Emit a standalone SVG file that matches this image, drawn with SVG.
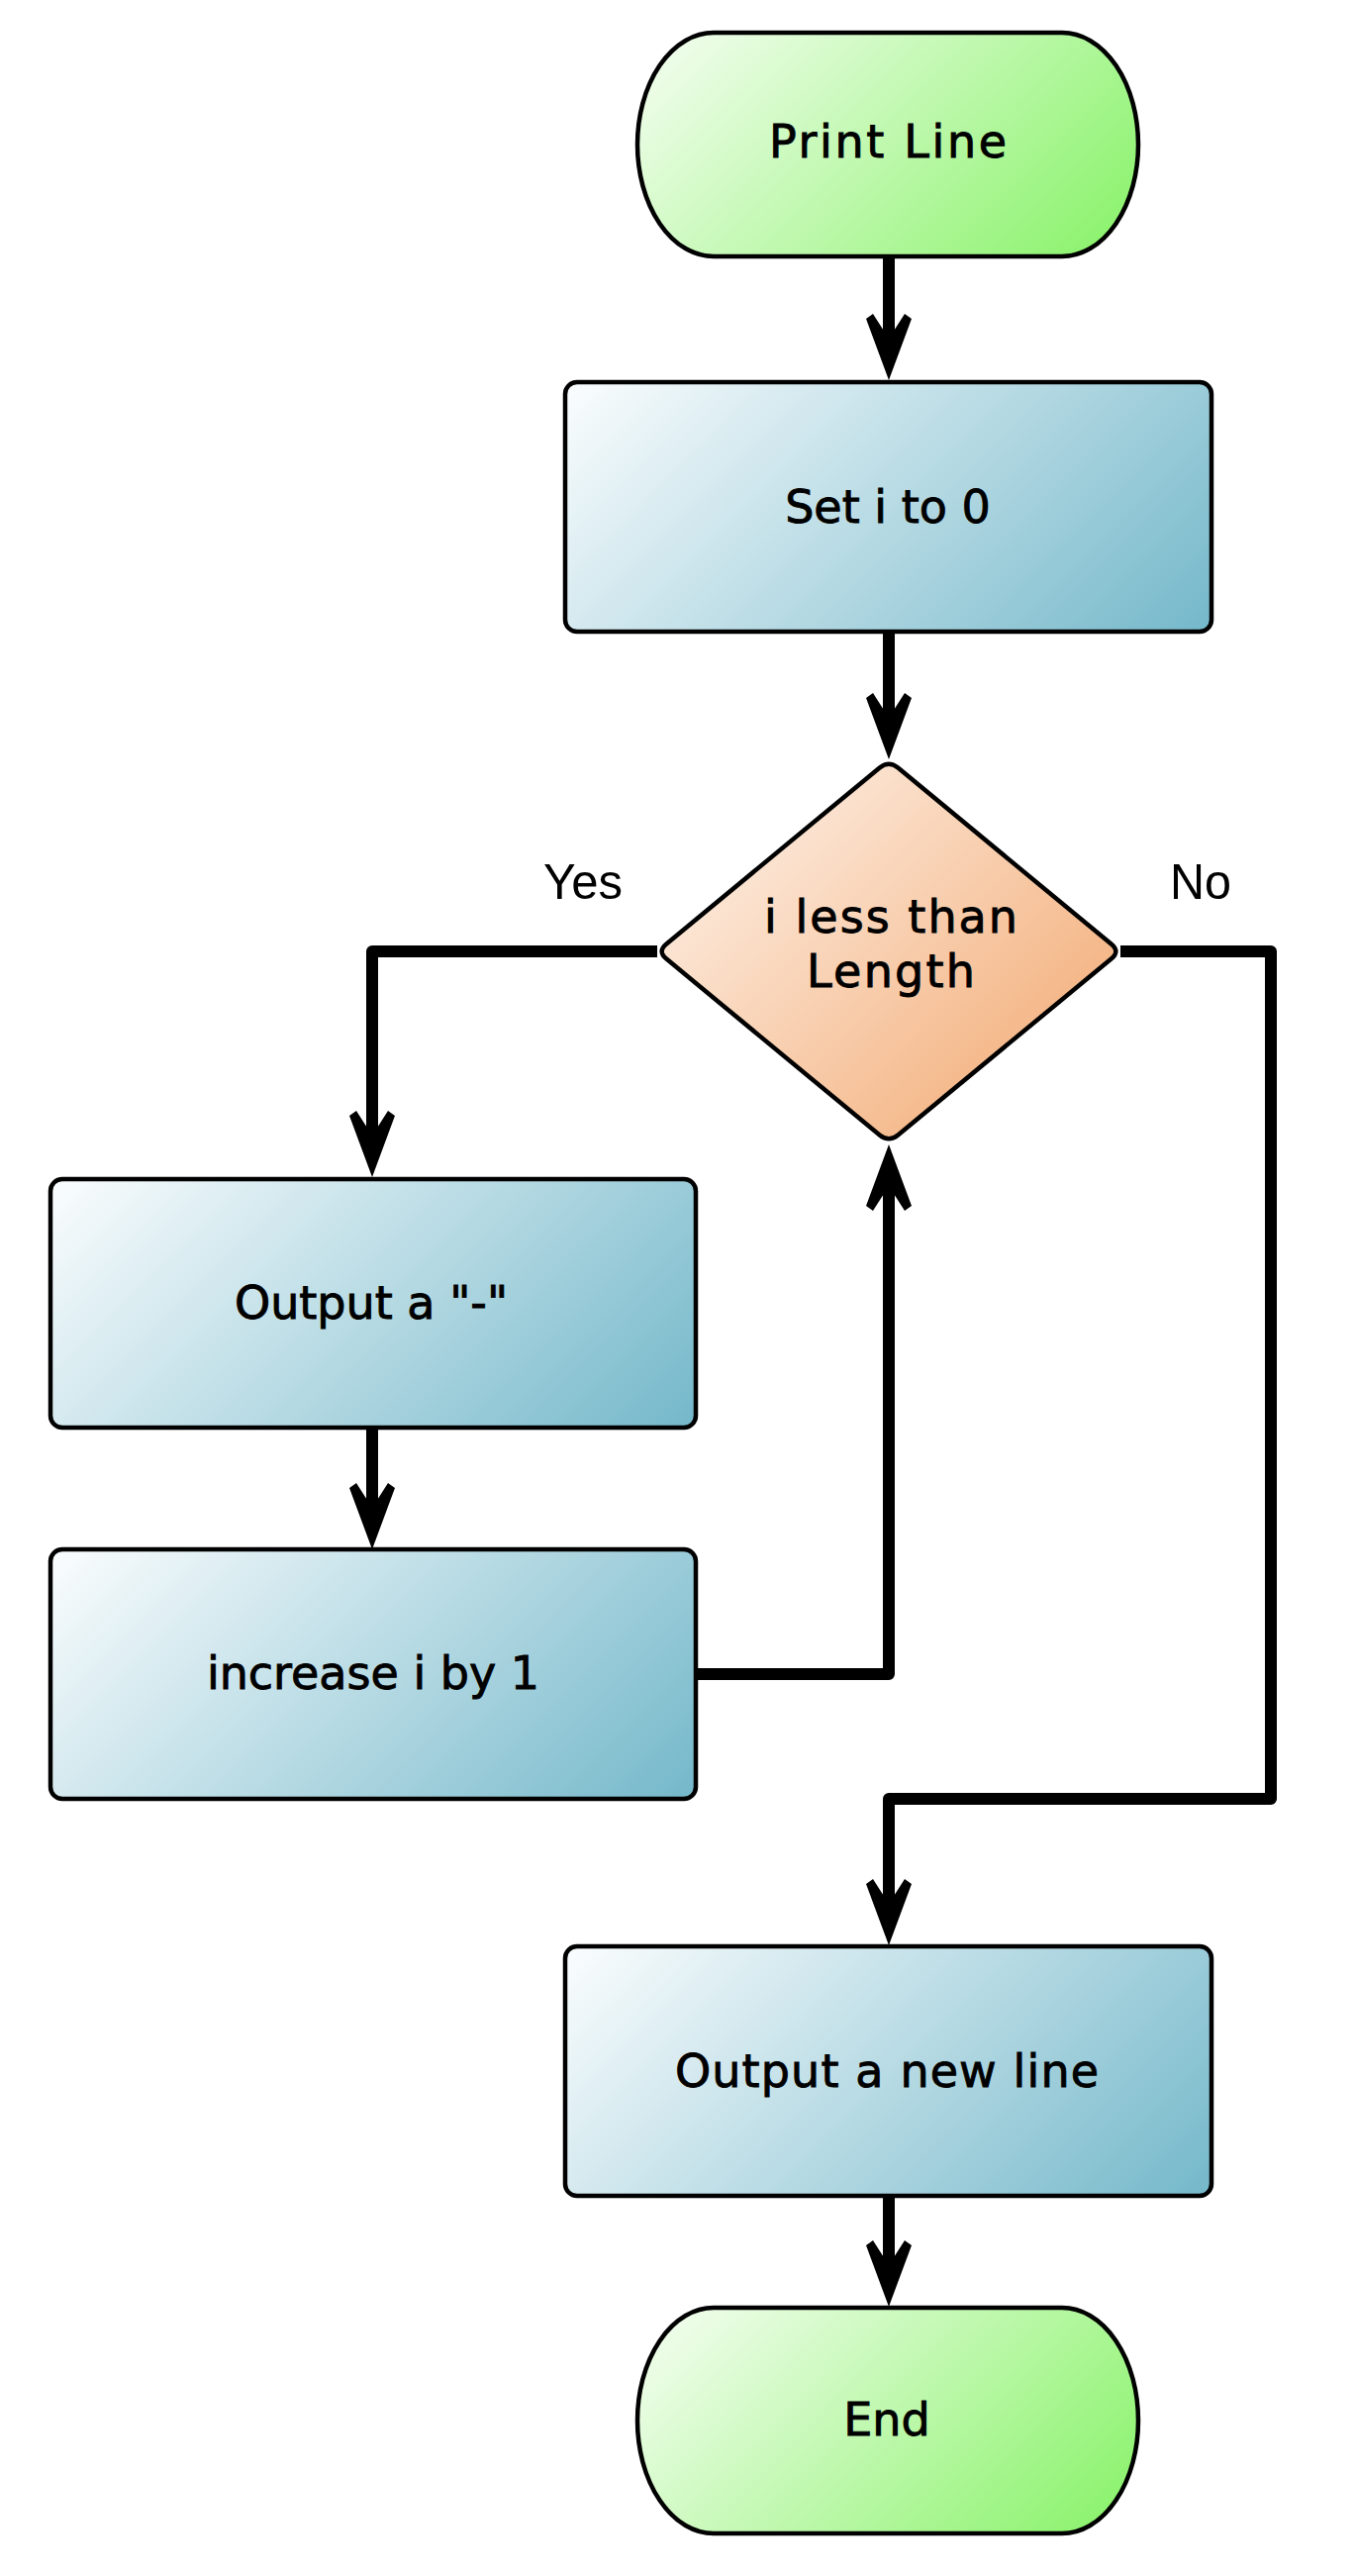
<svg xmlns="http://www.w3.org/2000/svg" width="1370" height="2602" viewBox="0 0 1370 2602">
<style>
.proc{stroke:#000;stroke-width:4.5;fill:url(#gProc)}
.term{stroke:#000;stroke-width:4.5;fill:url(#gTerm)}
.dec{stroke:#000;stroke-width:4.5;fill:url(#gDec);stroke-linejoin:round}
.lbl{font-family:"DejaVu Sans","Noto Sans",sans-serif;font-size:46px;fill:#000;stroke:#000;stroke-width:0.9;text-anchor:middle}
.edge{font-family:"Liberation Sans",Arial,sans-serif;font-size:50px;fill:#000;text-anchor:middle}
.conn{fill:none;stroke:#000;stroke-width:12;stroke-linejoin:round;stroke-linecap:butt}
</style>
<defs>
<linearGradient id="gProc" x1="0" y1="0" x2="1.206" y2="0.466">
<stop offset="0" stop-color="#fbfdfe"/>
<stop offset="1" stop-color="#74b8ca"/>
</linearGradient>
<linearGradient id="gTerm" x1="0" y1="0" x2="1.206" y2="0.539">
<stop offset="0" stop-color="#f6fef3"/>
<stop offset="1" stop-color="#86f266"/>
</linearGradient>
<linearGradient id="gDec" x1="0" y1="0" x2="1.087" y2="0.894">
<stop offset="0" stop-color="#fef6f0"/>
<stop offset="1" stop-color="#f2a66c"/>
</linearGradient>
<marker id="arr" markerUnits="userSpaceOnUse" orient="auto" refX="0" refY="0" markerWidth="80" markerHeight="60" overflow="visible">
<path d="M20,0 L-42,-23 L-47,-16 L-22,0 L-47,16 L-42,23 Z" fill="#000"/>
</marker>
</defs>

<g id="connectors">
<path class="conn" d="M898,259 V364" marker-end="url(#arr)"/>
<path class="conn" d="M898,638 V747" marker-end="url(#arr)"/>
<path class="conn" d="M664,961 H376 V1169" marker-end="url(#arr)"/>
<path class="conn" d="M376,1442 V1545" marker-end="url(#arr)"/>
<path class="conn" d="M703,1691 H898 V1176" marker-end="url(#arr)"/>
<path class="conn" d="M1132,961 H1284 V1817 H898 V1945" marker-end="url(#arr)"/>
<path class="conn" d="M898,2218 V2310" marker-end="url(#arr)"/>
<text class="edge" x="589" y="908" textLength="80" lengthAdjust="spacingAndGlyphs">Yes</text>
<text class="edge" x="1213" y="908" textLength="62" lengthAdjust="spacingAndGlyphs">No</text>
</g>

<g id="start">
<rect class="term" x="644" y="33" width="506" height="226" rx="77" ry="113"/>
<text class="lbl" x="897" y="159" textLength="240" lengthAdjust="spacing">Print Line</text>
</g>

<g id="init">
<rect class="proc" x="571" y="386" width="653" height="252" rx="12" ry="12"/>
<text class="lbl" x="897" y="528">Set i to 0</text>
</g>

<g id="cond">
<path class="dec" d="M907.3,775.6 L1122.7,953.4 Q1132,961 1122.7,968.6 L907.3,1146.4 Q898,1154 888.7,1146.4 L673.3,968.6 Q664,961 673.3,953.4 L888.7,775.6 Q898,768 907.3,775.6 Z"/>
<text class="lbl" x="900" y="942" textLength="256" lengthAdjust="spacing">i less than</text>
<text class="lbl" x="900" y="997" textLength="170" lengthAdjust="spacing">Length</text>
</g>

<g id="outdash">
<rect class="proc" x="51" y="1191" width="652" height="251" rx="12" ry="12"/>
<text class="lbl" x="375" y="1332">Output a "-"</text>
</g>

<g id="incr">
<rect class="proc" x="51" y="1565" width="652" height="252" rx="12" ry="12"/>
<text class="lbl" x="377" y="1706">increase i by 1</text>
</g>

<g id="newline">
<rect class="proc" x="571" y="1966" width="653" height="252" rx="12" ry="12"/>
<text class="lbl" x="896" y="2108" textLength="428" lengthAdjust="spacing">Output a new line</text>
</g>

<g id="end">
<rect class="term" x="644" y="2331" width="506" height="228" rx="77" ry="114"/>
<text class="lbl" x="896" y="2460">End</text>
</g>
</svg>
